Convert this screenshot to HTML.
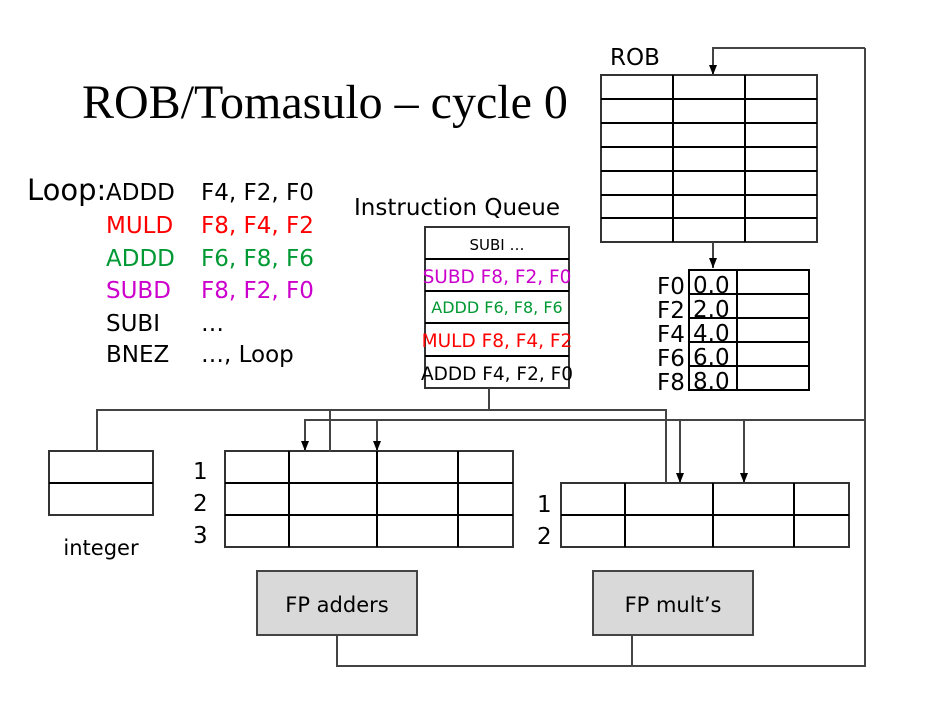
<!DOCTYPE html>
<html><head><style>
html,body{margin:0;padding:0;background:#fff;}
svg{display:block;}
text{font-family:"DejaVu Sans","Liberation Sans",sans-serif;}
</style></head><body>
<svg width="926" height="712" viewBox="0 0 926 712" xmlns="http://www.w3.org/2000/svg">
<defs><marker id="a" markerWidth="10" markerHeight="8" refX="10" refY="4" orient="auto" markerUnits="userSpaceOnUse"><path d="M0,0 L10,4 L0,8 z" fill="#000"/></marker></defs>
<text x="82" y="118" style="font-family:'Liberation Serif',serif" font-size="48">ROB/Tomasulo – cycle 0</text>
<text x="610" y="65" font-size="23">ROB</text>
<g font-size="23">
<text x="27" y="200" font-size="29">Loop:</text>
<text x="106" y="200">ADDD</text><text x="201" y="200">F4, F2, F0</text>
<text x="106" y="233" fill="#ff0000">MULD</text><text x="201" y="233" fill="#ff0000">F8, F4, F2</text>
<text x="106" y="266" fill="#009933">ADDD</text><text x="201" y="266" fill="#009933">F6, F8, F6</text>
<text x="106" y="298" fill="#cc00cc">SUBD</text><text x="201" y="298" fill="#cc00cc">F8, F2, F0</text>
<text x="106" y="331">SUBI</text><text x="201" y="331">…</text>
<text x="106" y="362">BNEZ</text><text x="201" y="362">…, Loop</text>
<text x="354" y="215">Instruction Queue</text>
</g>
<g fill="none" stroke="#000" stroke-width="2">
<rect x="601" y="75" width="216" height="167" stroke="#333"/>
<path d="M601 99H817M601 123H817M601 147H817M601 171H817M601 195H817M601 218H817M673 75V242M745 75V242"/>
<rect x="689" y="270" width="120" height="120"/>
<path d="M689 294H809M689 318H809M689 342H809M689 366H809M737 270V390"/>
<rect x="425" y="227" width="144" height="161" stroke="#333"/>
<path d="M425 259H569M425 291H569M425 323H569M425 356H569"/>
<rect x="49" y="451" width="104" height="64" stroke="#333"/>
<path d="M49 483H153"/>
<rect x="225" y="451" width="288" height="96" stroke="#333"/>
<path d="M225 483H513M225 515H513M289 451V547M377 451V547M458 451V547"/>
<rect x="561" y="483" width="288" height="64" stroke="#333"/>
<path d="M561 515H849M625 483V547M713 483V547M794 483V547"/>
</g>
<g fill="none" stroke="#444" stroke-width="2">
<path d="M865 48V666H337V635M632 666V635"/>
<path d="M865 48H713V75" marker-end="url(#a)"/>
<path d="M713 242V268" marker-end="url(#a)"/>
<path d="M489 388V410M97 451V410H666V483M330 410V452"/>
<path d="M865 420H305V451" marker-end="url(#a)"/>
<path d="M377 420V451" marker-end="url(#a)"/>
<path d="M680 420V483" marker-end="url(#a)"/>
<path d="M744 420V483" marker-end="url(#a)"/>
</g>
<rect x="257" y="571" width="160" height="64" fill="#d9d9d9" stroke="#444" stroke-width="2"/>
<rect x="593" y="571" width="160" height="64" fill="#d9d9d9" stroke="#444" stroke-width="2"/>
<g font-size="21">
<text x="337" y="612" text-anchor="middle">FP adders</text>
<text x="673" y="612" text-anchor="middle">FP mult’s</text>
<text x="101" y="555" text-anchor="middle">integer</text>
</g>
<g font-size="23">
<text x="193" y="479">1</text><text x="193" y="511">2</text><text x="193" y="543">3</text>
<text x="537" y="512">1</text><text x="537" y="544">2</text>
<text x="657" y="294">F0</text><text x="657" y="318">F2</text><text x="657" y="342">F4</text><text x="657" y="366">F6</text><text x="657" y="390">F8</text>
<text x="693" y="293">0.0</text><text x="693" y="317">2.0</text><text x="693" y="341">4.0</text><text x="693" y="365">6.0</text><text x="693" y="389">8.0</text>
</g>
<g font-size="18.5" text-anchor="middle">
<text x="497" y="250" font-size="15">SUBI …</text>
<text x="497" y="283" fill="#cc00cc">SUBD F8, F2, F0</text>
<text x="497" y="313" fill="#009933" font-size="16">ADDD F6, F8, F6</text>
<text x="497" y="347" fill="#ff0000">MULD F8, F4, F2</text>
<text x="497" y="380">ADDD F4, F2, F0</text>
</g>
</svg>
</body></html>
